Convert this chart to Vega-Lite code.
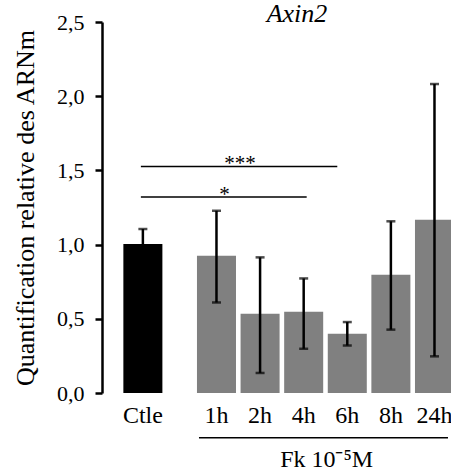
{
  "$schema": "https://vega.github.io/schema/vega-lite/v6.json",
  "autosize": {"type": "none"},
  "padding": {"left": 102, "top": 22, "right": 0, "bottom": 80},
  "width": 352,
  "height": 371,
  "background": "white",
  "title": {
    "text": "Axin2",
    "font": "Liberation Serif",
    "fontSize": 26,
    "fontStyle": "italic",
    "fontWeight": "normal",
    "color": "black",
    "anchor": "middle",
    "frame": "group",
    "dx": 19,
    "baseline": "alphabetic",
    "offset": -37
  },
  "config": {
    "view": {"stroke": null},
    "font": "Liberation Serif"
  },
  "datasets": {
    "bars": [
      {"sample": "Ctle", "value": 1.004, "lo": 0.90, "hi": 1.105},
      {"sample": "1h", "value": 0.925, "lo": 0.61, "hi": 1.228},
      {"sample": "2h", "value": 0.534, "lo": 0.135, "hi": 0.914},
      {"sample": "4h", "value": 0.548, "lo": 0.298, "hi": 0.772},
      {"sample": "6h", "value": 0.40, "lo": 0.32, "hi": 0.478},
      {"sample": "8h", "value": 0.797, "lo": 0.427, "hi": 1.157},
      {"sample": "24h", "value": 1.168, "lo": 0.247, "hi": 2.082}
    ],
    "sig": [
      {"from": "Ctle", "to": "6h", "y": 1.527, "label": "***"},
      {"from": "Ctle", "to": "4h", "y": 1.32, "label": "*"}
    ]
  },
  "data": {"name": "bars"},
  "encoding": {
    "x": {
      "field": "sample",
      "type": "nominal",
      "sort": ["Ctle", "1h", "2h", "4h", "6h", "8h", "24h"],
      "scale": {"type": "band", "domain": ["Ctle", "1h", "2h", "4h", "6h", "8h", "24h"], "paddingInner": 0.105, "paddingOuter": 0.589, "align": 1},
      "axis": {
        "title": null,
        "domain": false,
        "ticks": false,
        "tickSize": 0,
        "labelAngle": 0,
        "labelFont": "Liberation Serif",
        "labelFontSize": 24,
        "labelColor": "black",
        "labelPadding": 10,
        "labelOffset": {"condition": {"test": "datum.value === 'Ctle'", "value": -30}, "value": 0}
      }
    }
  },
  "layer": [
    {
      "transform": [{"filter": "datum.sample === 'Ctle'"}],
      "mark": {"type": "bar", "color": "black", "xOffset": -30},
      "encoding": {
        "y": {
          "field": "value",
          "type": "quantitative",
          "scale": {"domain": [0, 2.5], "nice": false, "zero": true},
          "axis": {
            "title": "Quantification relative des ARNm",
            "titleFont": "Liberation Serif",
            "titleFontSize": 26,
            "titleFontWeight": "normal",
            "titleColor": "black",
            "titlePadding": 18,
            "grid": false,
            "values": [0, 0.5, 1, 1.5, 2, 2.5],
            "labelExpr": "replace(format(datum.value, '.1f'), '.', ',')",
            "labelFont": "Liberation Serif",
            "labelFontSize": 22,
            "labelColor": "black",
            "labelPadding": 11,
            "domainColor": "black",
            "domainWidth": 2.5,
            "tickColor": "black",
            "tickWidth": 2.5,
            "tickSize": 7
          }
        }
      }
    },
    {
      "transform": [{"filter": "datum.sample !== 'Ctle'"}],
      "mark": {"type": "bar", "color": "#808080"},
      "encoding": {"y": {"field": "value", "type": "quantitative"}}
    },
    {
      "transform": [{"filter": "datum.sample === 'Ctle'"}],
      "mark": {"type": "rule", "color": "black", "strokeWidth": 2.5, "xOffset": -30},
      "encoding": {"y": {"field": "lo", "type": "quantitative"}, "y2": {"field": "hi"}}
    },
    {
      "transform": [{"filter": "datum.sample === 'Ctle'"}],
      "mark": {"type": "tick", "color": "black", "thickness": 2.5, "size": 9, "xOffset": -30},
      "encoding": {"y": {"field": "hi", "type": "quantitative"}}
    },
    {
      "transform": [{"filter": "datum.sample !== 'Ctle'"}],
      "mark": {"type": "rule", "color": "black", "strokeWidth": 2.5},
      "encoding": {"y": {"field": "lo", "type": "quantitative"}, "y2": {"field": "hi"}}
    },
    {
      "transform": [{"filter": "datum.sample !== 'Ctle'"}],
      "mark": {"type": "tick", "color": "black", "thickness": 2.5, "size": 9},
      "encoding": {"y": {"field": "hi", "type": "quantitative"}}
    },
    {
      "transform": [{"filter": "datum.sample !== 'Ctle'"}],
      "mark": {"type": "tick", "color": "black", "thickness": 2.5, "size": 9},
      "encoding": {"y": {"field": "lo", "type": "quantitative"}}
    },
    {
      "data": {"name": "sig"},
      "transform": [{"filter": "datum.to === '6h'"}],
      "mark": {"type": "rule", "color": "black", "strokeWidth": 1.5, "xOffset": -32, "x2Offset": -10},
      "encoding": {
        "x": {"field": "from", "type": "nominal"},
        "x2": {"field": "to"},
        "y": {"field": "y", "type": "quantitative"}
      }
    },
    {
      "data": {"name": "sig"},
      "transform": [{"filter": "datum.to === '4h'"}],
      "mark": {"type": "rule", "color": "black", "strokeWidth": 1.5, "xOffset": -32, "x2Offset": 3},
      "encoding": {
        "x": {"field": "from", "type": "nominal"},
        "x2": {"field": "to"},
        "y": {"field": "y", "type": "quantitative"}
      }
    },
    {
      "data": {"name": "sig"},
      "transform": [{"filter": "datum.to === '6h'"}],
      "mark": {"type": "text", "font": "Liberation Serif", "fontSize": 21, "color": "black", "baseline": "alphabetic", "align": "center", "dx": -20, "dy": 4},
      "encoding": {
        "x": {"datum": "2h"},
        "y": {"field": "y", "type": "quantitative"},
        "text": {"field": "label"}
      }
    },
    {
      "data": {"name": "sig"},
      "transform": [{"filter": "datum.to === '4h'"}],
      "mark": {"type": "text", "font": "Liberation Serif", "fontSize": 21, "color": "black", "baseline": "alphabetic", "align": "center", "dx": 8, "dy": 4},
      "encoding": {
        "x": {"datum": "1h"},
        "y": {"field": "y", "type": "quantitative"},
        "text": {"field": "label"}
      }
    },
    {
      "data": {"values": [{"group": "Fk 10⁻⁵M", "start": "1h", "end": "24h", "level": -0.301}]},
      "mark": {"type": "rule", "color": "black", "strokeWidth": 1.5, "xOffset": -17.5, "x2Offset": 13.5},
      "encoding": {
        "x": {"field": "start", "type": "nominal"},
        "x2": {"field": "end"},
        "y": {"field": "level", "type": "quantitative"}
      }
    },
    {
      "data": {"values": [{"group": "Fk 10⁻⁵M", "level": -0.5}]},
      "mark": {"type": "text", "font": "Liberation Serif", "fontSize": 24, "color": "black", "baseline": "alphabetic", "align": "center", "dx": 23},
      "encoding": {
        "x": {"datum": "4h"},
        "y": {"field": "level", "type": "quantitative"},
        "text": {"field": "group"}
      }
    }
  ]
}
